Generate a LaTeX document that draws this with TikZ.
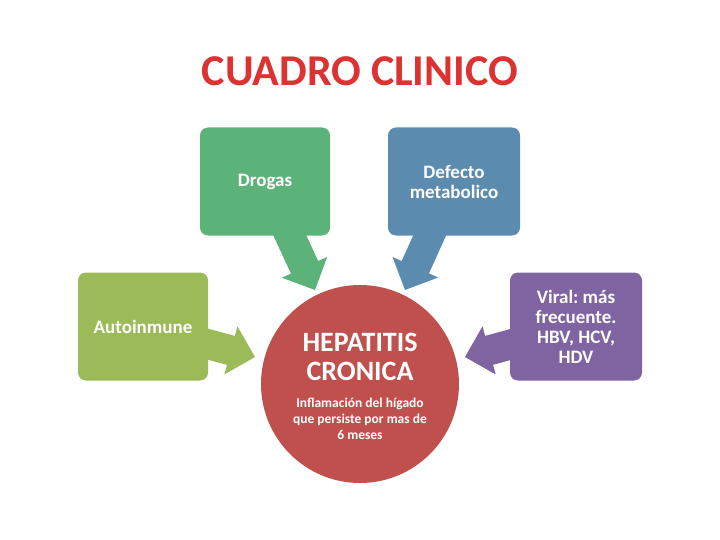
\documentclass[tikz,border=0pt]{standalone}
\usepackage{fontspec}
\setmainfont{Carlito}
\usetikzlibrary{calc,backgrounds}
\frenchspacing

\definecolor{drogasgreen}{RGB}{92,179,121}
\definecolor{defectoblue}{RGB}{91,140,176}
\definecolor{autogreen}{RGB}{155,187,89}
\definecolor{viralpurple}{RGB}{128,100,162}
\definecolor{hepred}{RGB}{192,80,77}
\definecolor{titlered}{RGB}{220,50,50}

\tikzset{
    box/.style={
        rounded corners=8pt,
        minimum width=130pt,
        minimum height=108pt,
        inner sep=3pt,
        text=white,
        align=center,
        font=\fontsize{19}{20}\selectfont\bfseries
    },
    fat/.style={
        to path={
            ($(\tikztostart)!15pt!90:(\tikztotarget)$)
            -- ($(\tikztotarget)!25pt!(\tikztostart)!15pt!-90:(\tikztostart)$)
            -- ($(\tikztotarget)!25pt!(\tikztostart)!25pt!-90:(\tikztostart)$)
            -- (\tikztotarget)
            -- ($(\tikztotarget)!25pt!(\tikztostart)!25pt!90:(\tikztostart)$)
            -- ($(\tikztotarget)!25pt!(\tikztostart)!15pt!90:(\tikztostart)$)
            -- ($(\tikztostart)!15pt!-90:(\tikztotarget)$)
            -- cycle
        }
    }
}

\begin{document}
\begin{tikzpicture}[x=1pt,y=-1pt]
    \useasboundingbox (0,0) rectangle (720,540);

    \node[text=titlered, font=\fontsize{44}{50}\selectfont\bfseries]
        (titulo) at (360,71) {CUADRO CLINICO};

    \path
        node[box, fill=drogasgreen] at (265,181.5) (drogas) {Drogas}
        node[box, fill=defectoblue, minimum width=132pt] at (454,181.5) (defecto) {Defecto\\metabolico}
        node[box, fill=autogreen] at (143,326.5) (auto) {Autoinmune}
        node[box, fill=viralpurple, minimum width=132pt] at (576,326.5) (viral) {Viral: más\\frecuente.\\HBV, HCV,\\HDV}
        ;

    \node[circle, fill=hepred, minimum size=198pt] at (360,384) (hep) {};
    \node[text=white, align=center, font=\fontsize{28}{29}\selectfont\bfseries]
        at (360,357) (heptitulo) {HEPATITIS\\CRONICA};
    \node[text=white, align=center, font=\fontsize{13.5}{16}\selectfont\bfseries]
        at (360,419) (hepnota) {Inflamación del hígado\\que persiste por mas de\\6 meses};

    % tips of the arrows, just outside the circle
    \coordinate (tipdrogas) at (315,290);
    \coordinate (tipdefecto) at (405,290);
    \coordinate (tipauto) at (255,357);
    \coordinate (tipviral) at (465,357);

    \begin{pgfonlayer}{background}
        \path[fill=drogasgreen] (drogas) to[fat] (tipdrogas);
        \path[fill=defectoblue] (defecto) to[fat] (tipdefecto);
        \path[fill=autogreen] (auto) to[fat] (tipauto);
        \path[fill=viralpurple] (viral) to[fat] (tipviral);
    \end{pgfonlayer}
\end{tikzpicture}
\end{document}
